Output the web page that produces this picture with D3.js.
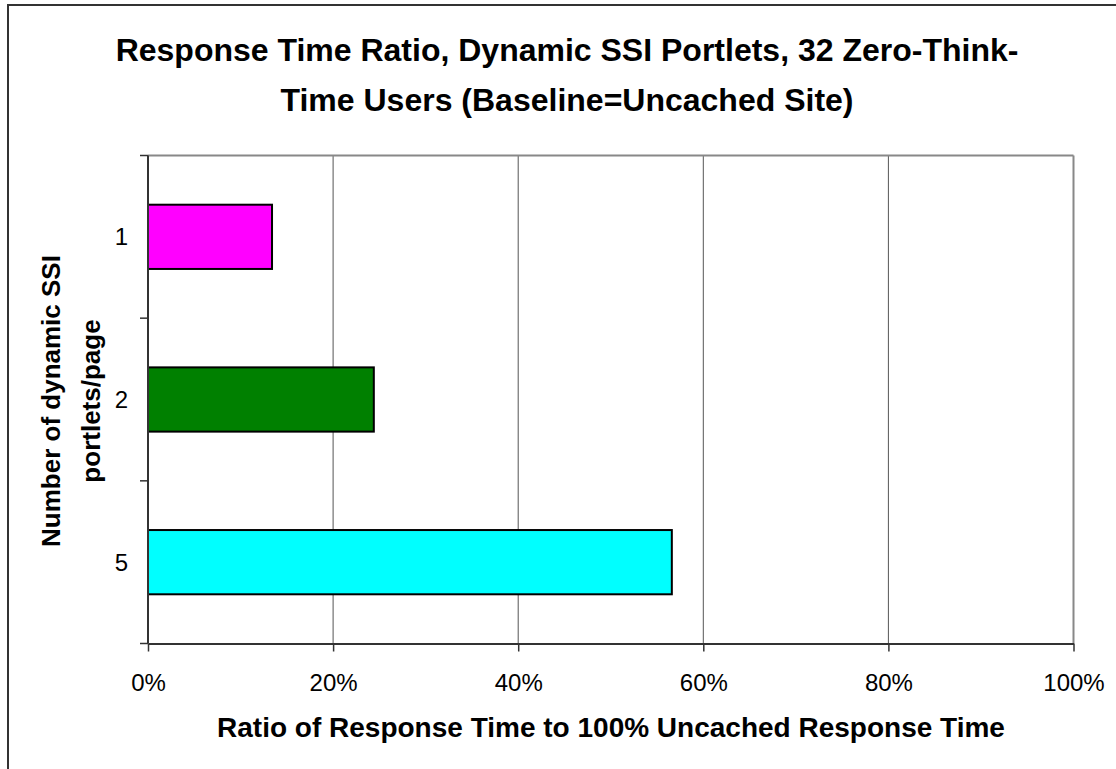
<!DOCTYPE html>
<html>
<head>
<meta charset="utf-8">
<script src="https://cdn.jsdelivr.net/npm/d3@7"></script>
<style>
  html, body { margin: 0; padding: 0; background: #fff; }
  svg { display: block; font-family: "Liberation Sans", Arial, sans-serif; }
</style>
</head>
<body>
<svg id="chart" width="1116" height="769"></svg>
<script>
// Response time ratio per number of dynamic SSI portlets on a page
const categories = ["1", "2", "5"];
const ratios = [0.134, 0.244, 0.566];
const barColors = ["#FF00FF", "#008000", "#00FFFF"];
const xTicks = [0, 0.2, 0.4, 0.6, 0.8, 1.0];
const titleLines = ["Response Time Ratio, Dynamic SSI Portlets, 32 Zero-Think-", "Time Users (Baseline=Uncached Site)"];
const yTitleLines = ["Number of dynamic SSI", "portlets/page"];
const xTitle = "Ratio of Response Time to 100% Uncached Response Time";

const svg = d3.select("#chart");
const W = 1116, H = 769;
const plot = { left: 148, top: 155.5, right: 1073.5, bottom: 643.5 };

// outer chart frame (runs past the right and bottom edges)
svg.append("rect")
  .attr("x", 8).attr("y", 5)
  .attr("width", W + 10).attr("height", H + 10)
  .attr("fill", "#fff").attr("stroke", "#333").attr("stroke-width", 2);

const x = d3.scaleLinear().domain([0, 1]).range([plot.left, plot.right]);
const y = d3.scaleBand().domain(categories)
  .range([plot.top, plot.bottom])
  .paddingInner(0.605).paddingOuter(0.3025);

// plot area border (top and right) and vertical gridlines
svg.append("g")
  .selectAll("line.grid")
  .data(xTicks.filter(d => d > 0))
  .join("line")
  .attr("x1", d => x(d)).attr("x2", d => x(d))
  .attr("y1", plot.top).attr("y2", plot.bottom)
  .attr("stroke", d => d === 1 ? "#888" : "#555")
  .attr("stroke-width", d => d === 1 ? 2 : 1);
svg.append("line")
  .attr("x1", plot.left).attr("x2", plot.right)
  .attr("y1", plot.top).attr("y2", plot.top)
  .attr("stroke", "#888").attr("stroke-width", 2);

// bars
svg.append("g")
  .selectAll("rect")
  .data(categories.map((c, i) => ({ c, v: ratios[i], col: barColors[i] })))
  .join("rect")
  .attr("x", x(0))
  .attr("y", d => y(d.c))
  .attr("width", d => x(d.v) - x(0))
  .attr("height", y.bandwidth())
  .attr("fill", d => d.col)
  .attr("stroke", "#000")
  .attr("stroke-width", 2);

// x axis
const xAxis = svg.append("g")
  .attr("transform", `translate(0,${plot.bottom})`)
  .call(d3.axisBottom(x).tickValues(xTicks).tickFormat(d3.format(".0%"))
    .tickSizeInner(8).tickSizeOuter(0).tickPadding(22));
xAxis.select(".domain").attr("stroke", "#333").attr("stroke-width", 2);
xAxis.selectAll(".tick line").attr("stroke", "#333").attr("stroke-width", 1.5);
xAxis.selectAll(".tick text").attr("font-size", 24).attr("fill", "#000")
  .attr("font-family", "Liberation Sans, Arial, sans-serif");

// y axis: ticks sit on band boundaries, labels at band centres
const yAxis = svg.append("g").attr("transform", `translate(${plot.left},0)`);
yAxis.append("line")
  .attr("x1", 0).attr("x2", 0).attr("y1", plot.top).attr("y2", plot.bottom)
  .attr("stroke", "#333").attr("stroke-width", 2);
const step = y.step();
const boundaries = d3.range(categories.length + 1).map(i => plot.top + i * step);
yAxis.selectAll("line.tk").data(boundaries).join("line")
  .attr("class", "tk")
  .attr("x1", -8).attr("x2", 0).attr("y1", d => d).attr("y2", d => d)
  .attr("stroke", "#333").attr("stroke-width", 1.5);
yAxis.selectAll("text").data(categories).join("text")
  .attr("x", -20)
  .attr("y", d => y(d) + y.bandwidth() / 2)
  .attr("dy", "0.35em")
  .attr("text-anchor", "end")
  .attr("font-size", 24)
  .text(d => d);

// chart title
svg.append("g").selectAll("text").data(titleLines).join("text")
  .attr("x", 567)
  .attr("y", (d, i) => 61 + i * 50)
  .attr("text-anchor", "middle")
  .attr("font-size", 32)
  .attr("font-weight", "bold")
  .text(d => d);

// axis titles
svg.append("text")
  .attr("x", 611)
  .attr("y", 737)
  .attr("text-anchor", "middle")
  .attr("font-size", 28)
  .attr("font-weight", "bold")
  .text(xTitle);

svg.append("g")
  .attr("transform", "translate(0,401) rotate(-90)")
  .selectAll("text").data(yTitleLines).join("text")
  .attr("x", 0)
  .attr("y", (d, i) => 60 + i * 40)
  .attr("text-anchor", "middle")
  .attr("font-size", 26)
  .attr("font-weight", "bold")
  .text(d => d);
</script>
</body>
</html>
